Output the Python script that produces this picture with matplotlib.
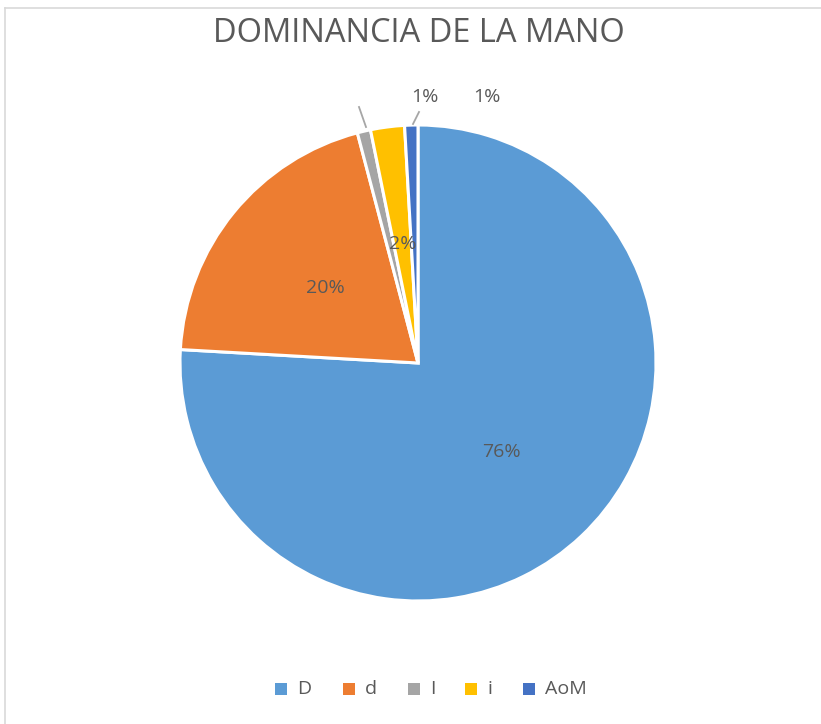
import matplotlib
matplotlib.use('Agg')
import matplotlib.pyplot as plt
from matplotlib.lines import Line2D
from matplotlib.patches import Rectangle

# data
categorias = ['D', 'd', 'I', 'i', 'AoM']
valores = [75.9, 20.0, 0.9, 2.3, 0.9]
etiquetas = ['76%', '20%', '1%', '2%', '1%']
colores = ['#5B9BD5', '#ED7D31', '#A5A5A5', '#FFC000', '#4472C4']

plt.rcParams['font.family'] = ['Open Sans', 'DejaVu Sans']
gris = '#595959'

W, H = 821, 724
fig = plt.figure(figsize=(W / 100, H / 100), dpi=100)
fig.patch.set_facecolor('white')

# pie axes: center (418, 363), radius 238 px
cx, cy, r = 418, 363, 238
ax = fig.add_axes([(cx - r) / W, 1 - (cy + r) / H, 2 * r / W, 2 * r / H])
wedges, _ = ax.pie(valores, colors=colores, startangle=90, counterclock=False,
                   radius=1.0, wedgeprops=dict(edgecolor='white', linewidth=2.2))
ax.set_xlim(-1, 1)
ax.set_ylim(-1, 1)
ax.set_aspect('equal')

def px(x, y):
    # pixel -> data coords of pie axes
    return (x - cx) / r, (cy - y) / r

# labels inside
for (x, y), t in [((501, 452), etiquetas[0]), ((325, 288), etiquetas[1]), ((403, 244), etiquetas[3])]:
    ax.text(*px(x, y), t, ha='center', va='center', fontsize=14, color=gris)

# outside labels and leader lines
ax.text(*px(425, 97), etiquetas[4], ha='center', va='center', fontsize=14, color=gris, clip_on=False)
ax.text(*px(487, 97), etiquetas[2], ha='center', va='center', fontsize=14, color=gris, clip_on=False)
for (x0, y0), (x1, y1) in [((359, 107), (366, 127)), ((419, 112), (413, 124))]:
    ax.add_line(Line2D([px(x0, y0)[0], px(x1, y1)[0]], [px(x0, y0)[1], px(x1, y1)[1]],
                       color='#A6A6A6', lw=1.3, clip_on=False))

# title
fig.text(419 / W, 1 - 33 / H, 'DOMINANCIA DE LA MANO', ha='center', va='center',
         fontsize=23.5, color=gris)

# legend
x_pos = [275, 343, 408, 465, 523]
for xp, c, lab in zip(x_pos, colores, categorias):
    fig.patches.append(Rectangle((xp / W, 1 - 695 / H), 12 / W, 12 / H,
                                 transform=fig.transFigure, facecolor=c, edgecolor='none'))
    fig.text((xp + 22) / W, 1 - 689 / H, lab, ha='left', va='center', fontsize=14, color=gris)

# chart border
fig.add_artist(Line2D([5 / W, 1], [1 - 8 / H, 1 - 8 / H], color='#D9D9D9', lw=1.2,
                      transform=fig.transFigure))
fig.add_artist(Line2D([5 / W, 5 / W], [0, 1 - 8 / H], color='#D9D9D9', lw=1.2,
                      transform=fig.transFigure))

fig.savefig('out.png', dpi=100)
